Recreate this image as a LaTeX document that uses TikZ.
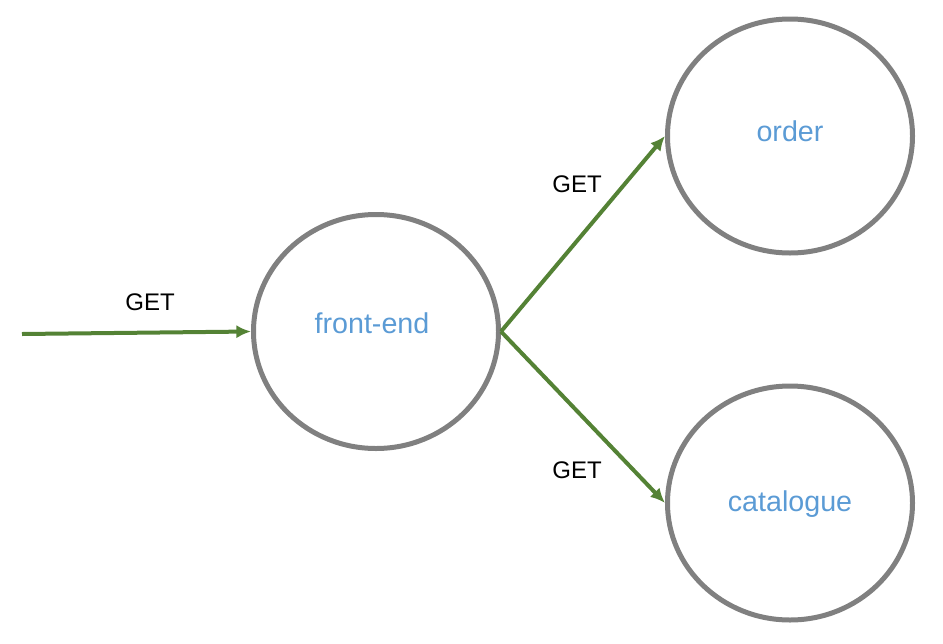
\documentclass[tikz,border=0pt]{standalone}
\usepackage{fontspec}
\setmainfont{Liberation Sans}
\usetikzlibrary{shapes.geometric, arrows.meta}
\definecolor{edgegreen}{HTML}{548235}
\definecolor{ringgray}{HTML}{808080}
\definecolor{svcblue}{HTML}{5B9BD5}
\tikzset{
    svc/.style={ellipse, draw=ringgray, line width=3.75pt, minimum width=183.75pt, minimum height=175.5pt},
    svcname/.style={text=svcblue, font=\fontsize{21.5}{24}\selectfont},
    call/.style={-{Latex[length=11pt, width=10pt]}, draw=edgegreen, line width=3pt},
    verb/.style={font=\fontsize{18}{20}\selectfont}
}
\begin{document}
\begin{tikzpicture}[x=0.75pt, y=-0.75pt]
        \useasboundingbox (0, 0) rectangle (943, 643);
        \node (fe) at (376, 331.5)[svc]{};
        \node (order) at (790, 136)[svc]{};
        \node (cat) at (790, 503)[svc]{};
        % service names sit a little off the ring centres
        \node (fename) at (372, 323)[svcname]{front-end};
        \node (ordername) at (790, 131)[svcname]{order};
        \node (catname) at (790, 504)[svcname]{catalogue};
        \coordinate (in) at (22, 334);
        \draw[call] (in) -- (fe.west);
        \draw[call] (fe.east) -- (order.west);
        \draw[call] (fe.east) -- (cat.west);
        \node (getin) at (150, 302)[verb]{GET};
        \node (getorder) at (577, 184)[verb]{GET};
        \node (getcat) at (577, 470)[verb]{GET};
    \end{tikzpicture}
\end{document}
